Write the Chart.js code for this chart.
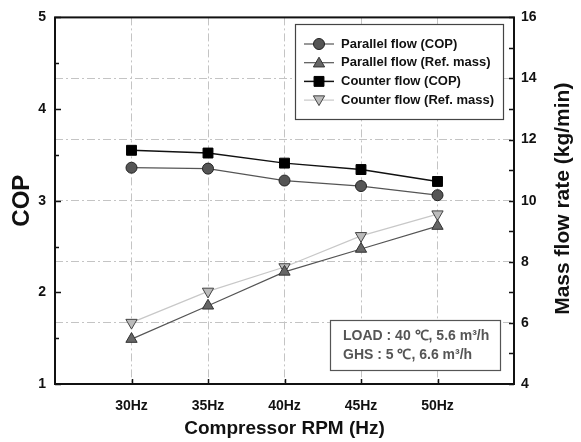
<!DOCTYPE html>
<html>
<head>
<meta charset="utf-8">
<script src="https://cdn.jsdelivr.net/npm/chart.js@4.4.1/dist/chart.umd.min.js"></script>
<style>
  html, body { margin: 0; padding: 0; background: #fff; }
</style>
</head>
<body>
<canvas id="copChart" width="581" height="442"></canvas>
<script>
/* Data */
var categories   = ["30Hz", "35Hz", "40Hz", "45Hz", "50Hz"];
var parallelCop  = [3.36, 3.35, 3.22, 3.16, 3.06];
var counterCop   = [3.55, 3.52, 3.41, 3.34, 3.21];
var parallelMass = [5.47, 6.56, 7.67, 8.42, 9.17];
var counterMass  = [6.01, 7.03, 7.83, 8.85, 9.56];
var copTicks     = [1, 2, 3, 4, 5];
var massTicks    = [4, 6, 8, 10, 12, 14, 16];
var massTitle    = "Mass flow rate (kg/min)";
var noteLines    = ["LOAD : 40 \u2103, 5.6 m\u00b3/h", "GHS : 5 \u2103, 6.6 m\u00b3/h"];

var FONT = "Arial, 'Liberation Sans', sans-serif";
var GRID = "#c4c4c4";

function pts(arr) {
  return arr.map(function (v, i) { return { x: i + 1, y: v }; });
}

/* ------------------------------------------------------------------ */
/* Frame, inward ticks, right title, legend and note box               */
/* ------------------------------------------------------------------ */
var decorPlugin = {
  id: "decor",
  afterDraw: function (chart) {
    var ctx = chart.ctx, a = chart.chartArea;
    var sx = chart.scales.x, sy = chart.scales.y, sy1 = chart.scales.y1;
    ctx.save();
    ctx.strokeStyle = "#111";
    ctx.lineWidth = 1.5;
    ctx.beginPath();
    sy.ticks.forEach(function (t) {
      var p = Math.round(sy.getPixelForValue(t.value)) + 0.5;
      var len = Number.isInteger(t.value) ? 6 : 4;
      ctx.moveTo(a.left, p); ctx.lineTo(a.left + len, p);
    });
    sy1.ticks.forEach(function (t) {
      var p = Math.round(sy1.getPixelForValue(t.value)) + 0.5;
      ctx.moveTo(a.right, p); ctx.lineTo(a.right - 5, p);
    });
    sx.ticks.forEach(function (t) {
      if (t.value < 1 || t.value > categories.length) return;
      var p = Math.round(sx.getPixelForValue(t.value)) + 0.5;
      ctx.moveTo(p, a.bottom); ctx.lineTo(p, a.bottom - 5);
    });
    ctx.stroke();

    ctx.lineWidth = 2;
    ctx.strokeRect(a.left, a.top, a.right - a.left, a.bottom - a.top);

    /* right axis title, reads bottom to top like the left one */
    ctx.save();
    ctx.translate(sy1.right - 18, (a.top + a.bottom) / 2 - 2);
    ctx.rotate(-Math.PI / 2);
    ctx.font = "bold 21px " + FONT;
    ctx.fillStyle = "#111";
    ctx.textAlign = "center";
    ctx.textBaseline = "middle";
    ctx.fillText(massTitle, 0, 0);
    ctx.restore();

    /* legend */
    var lx = 295, ly = 24, lw = 208, lh = 95;
    ctx.fillStyle = "#fff";
    ctx.fillRect(lx, ly, lw, lh);
    ctx.lineWidth = 1.2;
    ctx.strokeStyle = "#444";
    ctx.strokeRect(lx + 0.5, ly + 0.5, lw, lh);
    ctx.font = "bold 13px " + FONT;
    ctx.textBaseline = "middle";
    ctx.textAlign = "left";
    chart.data.datasets.forEach(function (ds, i) {
      var y = ly + 20 + i * 18.7;
      ctx.strokeStyle = ds.borderColor;
      ctx.lineWidth = ds.borderWidth;
      ctx.beginPath(); ctx.moveTo(lx + 9, y); ctx.lineTo(lx + 39, y); ctx.stroke();
      ctx.fillStyle = ds.pointBackgroundColor;
      ctx.strokeStyle = ds.pointBorderColor;
      ctx.lineWidth = ds.pointBorderWidth;
      Chart.helpers.drawPoint(ctx, {
        pointStyle: ds.pointStyle, rotation: ds.pointRotation || 0,
        radius: ds.pointRadius, borderWidth: ds.pointBorderWidth
      }, lx + 24, y + (ds.pointStyle === "triangle" ? (ds.pointRotation ? -1 : 1) : 0));
      ctx.fillStyle = "#111";
      ctx.fillText(ds.label, lx + 46, y);
    });

    /* note box */
    var nx = 330, ny = 320, nw = 170, nh = 50;
    ctx.fillStyle = "#fff";
    ctx.fillRect(nx, ny, nw, nh);
    ctx.strokeStyle = "#555";
    ctx.lineWidth = 1.2;
    ctx.strokeRect(nx + 0.5, ny + 0.5, nw, nh);
    ctx.fillStyle = "#555";
    ctx.font = "bold 14px " + FONT;
    noteLines.forEach(function (s, i) {
      ctx.fillText(s, nx + 13, ny + 16 + i * 19);
    });
    ctx.restore();
  }
};

new Chart(document.getElementById("copChart"), {
  type: "line",
  data: {
    datasets: [
      { label: "Parallel flow (COP)", data: pts(parallelCop), yAxisID: "y",
        borderColor: "#555", borderWidth: 1.2, pointStyle: "circle", pointRadius: 5.5,
        pointBackgroundColor: "#555", pointBorderColor: "#222", pointBorderWidth: 1 },
      { label: "Parallel flow (Ref. mass)", data: pts(parallelMass), yAxisID: "y1",
        borderColor: "#555", borderWidth: 1.2, pointStyle: "triangle", pointRadius: 6.5,
        pointBackgroundColor: "#666", pointBorderColor: "#333", pointBorderWidth: 1 },
      { label: "Counter flow (COP)", data: pts(counterCop), yAxisID: "y",
        borderColor: "#111", borderWidth: 1.5, pointStyle: "rect", pointRadius: 7,
        pointBackgroundColor: "#000", pointBorderColor: "#000", pointBorderWidth: 1 },
      { label: "Counter flow (Ref. mass)", data: pts(counterMass), yAxisID: "y1",
        borderColor: "#c8c8c8", borderWidth: 1.2, pointStyle: "triangle", pointRotation: 180, pointRadius: 6.5,
        pointBackgroundColor: "#bbb", pointBorderColor: "#444", pointBorderWidth: 1 }
    ]
  },
  options: {
    responsive: false,
    animation: false,
    devicePixelRatio: 1,
    layout: { padding: { top: 16, left: 0, right: 0, bottom: 0 } },
    plugins: { legend: { display: false }, tooltip: { enabled: false } },
    scales: {
      x: {
        type: "linear", min: 0, max: categories.length + 1,
        afterFit: function (s) { s.height = 58; },
        grid: {
          drawTicks: false, lineWidth: 1,
          color: function (c) {
            var v = c.tick ? c.tick.value : 0;
            return v >= 1 && v <= categories.length ? GRID : "rgba(0,0,0,0)";
          }
        },
        border: { display: false, dash: [8, 3, 2, 3] },
        ticks: {
          stepSize: 1, autoSkip: false, maxRotation: 0, padding: 14, color: "#111",
          font: { family: FONT, size: 14, weight: "bold" },
          callback: function (v) { return categories[v - 1] || ""; }
        },
        title: { display: true, text: "Compressor RPM (Hz)", color: "#111",
          font: { family: FONT, size: 19, weight: "bold" }, padding: { top: 0, bottom: 2 } }
      },
      y: {
        position: "left", min: 1, max: 5,
        afterFit: function (s) { s.width = 55; },
        grid: { display: false, drawTicks: false },
        border: { display: false },
        ticks: {
          stepSize: 0.5, autoSkip: false, padding: 9, color: "#111",
          font: { family: FONT, size: 14, weight: "bold" },
          callback: function (v) { return copTicks.indexOf(v) >= 0 ? v : ""; }
        },
        title: { display: true, text: "COP", color: "#111",
          font: { family: FONT, size: 24, weight: "bold" }, padding: { top: 8, bottom: 0 } }
      },
      y1: {
        position: "right", min: 4, max: 16,
        afterFit: function (s) { s.width = 67; },
        grid: {
          drawTicks: false, lineWidth: 1,
          color: function (c) {
            var v = c.tick ? c.tick.value : 0;
            return massTicks.indexOf(v) > 0 && v < 16 ? GRID : "rgba(0,0,0,0)";
          }
        },
        border: { display: false, dash: [8, 3, 2, 3] },
        ticks: {
          stepSize: 1, autoSkip: false, padding: 7, color: "#111",
          font: { family: FONT, size: 14, weight: "bold" },
          callback: function (v) { return massTicks.indexOf(v) >= 0 ? v : ""; }
        },
        title: { display: false }
      }
    }
  },
  plugins: [decorPlugin]
});
</script>
</body>
</html>
